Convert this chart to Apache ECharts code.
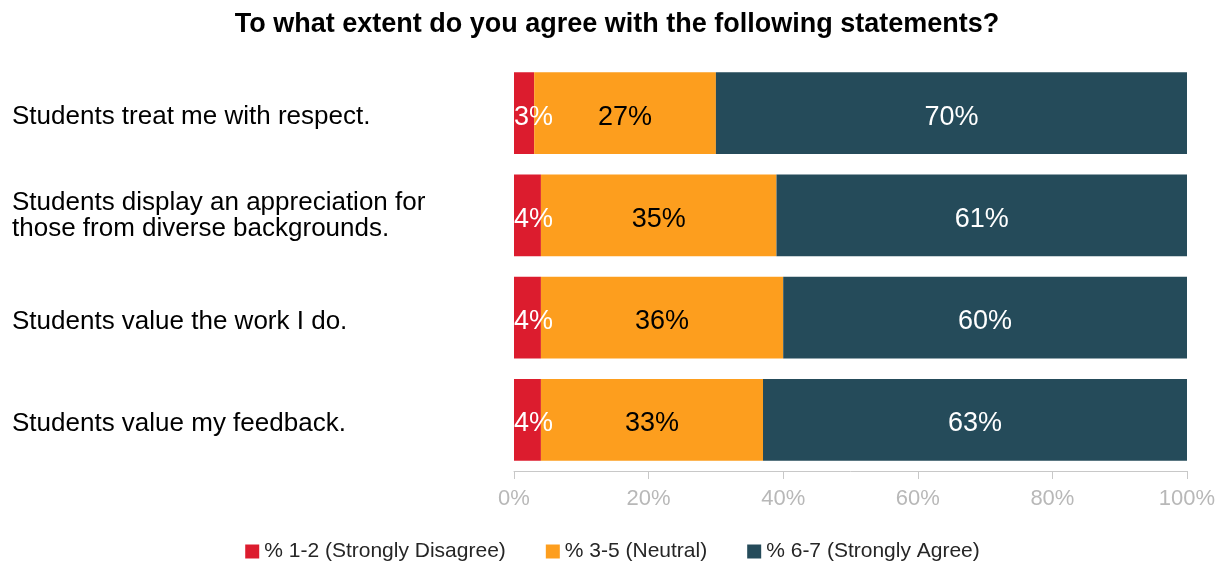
<!DOCTYPE html>
<html>
<head>
<meta charset="utf-8">
<script src="https://cdn.jsdelivr.net/npm/echarts@6/dist/echarts.min.js"></script>
<style>
  html, body { margin: 0; padding: 0; background: #fff; }
  #chart { width: 1225px; height: 563px; }
</style>
</head>
<body>
<div id="chart"></div>
<script>
// Survey statements (top to bottom)
const statements = [
  'Students treat me with respect.',
  'Students display an appreciation for\nthose from diverse backgrounds.',
  'Students value the work I do.',
  'Students value my feedback.'
];
const seriesNames = ['% 1-2 (Strongly Disagree)', '% 3-5 (Neutral)', '% 6-7 (Strongly Agree)'];
const disagree = [3, 4, 4, 4];
const neutral = [27, 35, 36, 33];
const agree = [70, 61, 60, 63];
const axisTicks = [0, 20, 40, 60, 80, 100];

const colors = ['#dc1c2e', '#fd9e1e', '#254b5a'];
const labelColors = ['#ffffff', '#000000', '#ffffff'];
const FONT = 'Liberation Sans, Arial, sans-serif';

const chart = echarts.init(document.getElementById('chart'));

// Small first segment: its label starts at the bar's left edge and overflows to the right
const makeSeries = (name, data, i) => ({
  name: name,
  type: 'bar',
  stack: 'total',
  data: data,
  barCategoryGap: '20%',
  itemStyle: { color: colors[i] },
  label: {
    show: true,
    position: i === 0 ? 'insideLeft' : 'inside',
    distance: i === 0 ? 0 : 5,
    offset: [0, 4],
    formatter: '{c}%',
    color: labelColors[i],
    fontFamily: FONT,
    fontSize: 27
  },
  emphasis: { disabled: true }
});

const labelText = { color: '#000', fontFamily: FONT, fontSize: 26 };

chart.setOption({
  animation: false,
  title: {
    text: 'To what extent do you agree with the following statements?',
    left: 612,
    textAlign: 'center',
    top: 6,
    textStyle: { fontFamily: FONT, fontSize: 27, fontWeight: 'bold', color: '#000' }
  },
  legend: {
    data: seriesNames,
    bottom: -4,
    left: 'center',
    icon: 'rect',
    itemWidth: 14,
    itemHeight: 14,
    itemGap: 40,
    textStyle: { fontFamily: FONT, fontSize: 21, color: '#262626' }
  },
  grid: { left: 514, right: 38, top: 62, bottom: 92 },
  xAxis: {
    type: 'value',
    min: 0,
    max: 100,
    interval: 20,
    axisLine: { show: true, lineStyle: { color: '#c8c8c8' } },
    axisTick: { show: true, length: 8, lineStyle: { color: '#c8c8c8' } },
    splitLine: { show: false },
    axisLabel: {
      formatter: v => axisTicks.includes(v) ? v + '%' : '',
      color: '#b8b8b8',
      fontFamily: FONT,
      fontSize: 22,
      margin: 17
    }
  },
  yAxis: {
    type: 'category',
    data: statements,
    inverse: true,
    axisLine: { show: false },
    axisTick: { show: false },
    axisLabel: {
      align: 'left',
      margin: 502,
      // single-line statements sit slightly below the bar centre
      formatter: v => v.includes('\n') ? '{m|' + v.split('\n').join('}\n{m|') + '}' : '{s|' + v + '}',
      rich: {
        s: Object.assign({ lineHeight: 34, verticalAlign: 'bottom' }, labelText),
        m: Object.assign({ lineHeight: 26 }, labelText)
      }
    }
  },
  series: [
    makeSeries(seriesNames[0], disagree, 0),
    makeSeries(seriesNames[1], neutral, 1),
    makeSeries(seriesNames[2], agree, 2)
  ]
});
</script>
</body>
</html>
